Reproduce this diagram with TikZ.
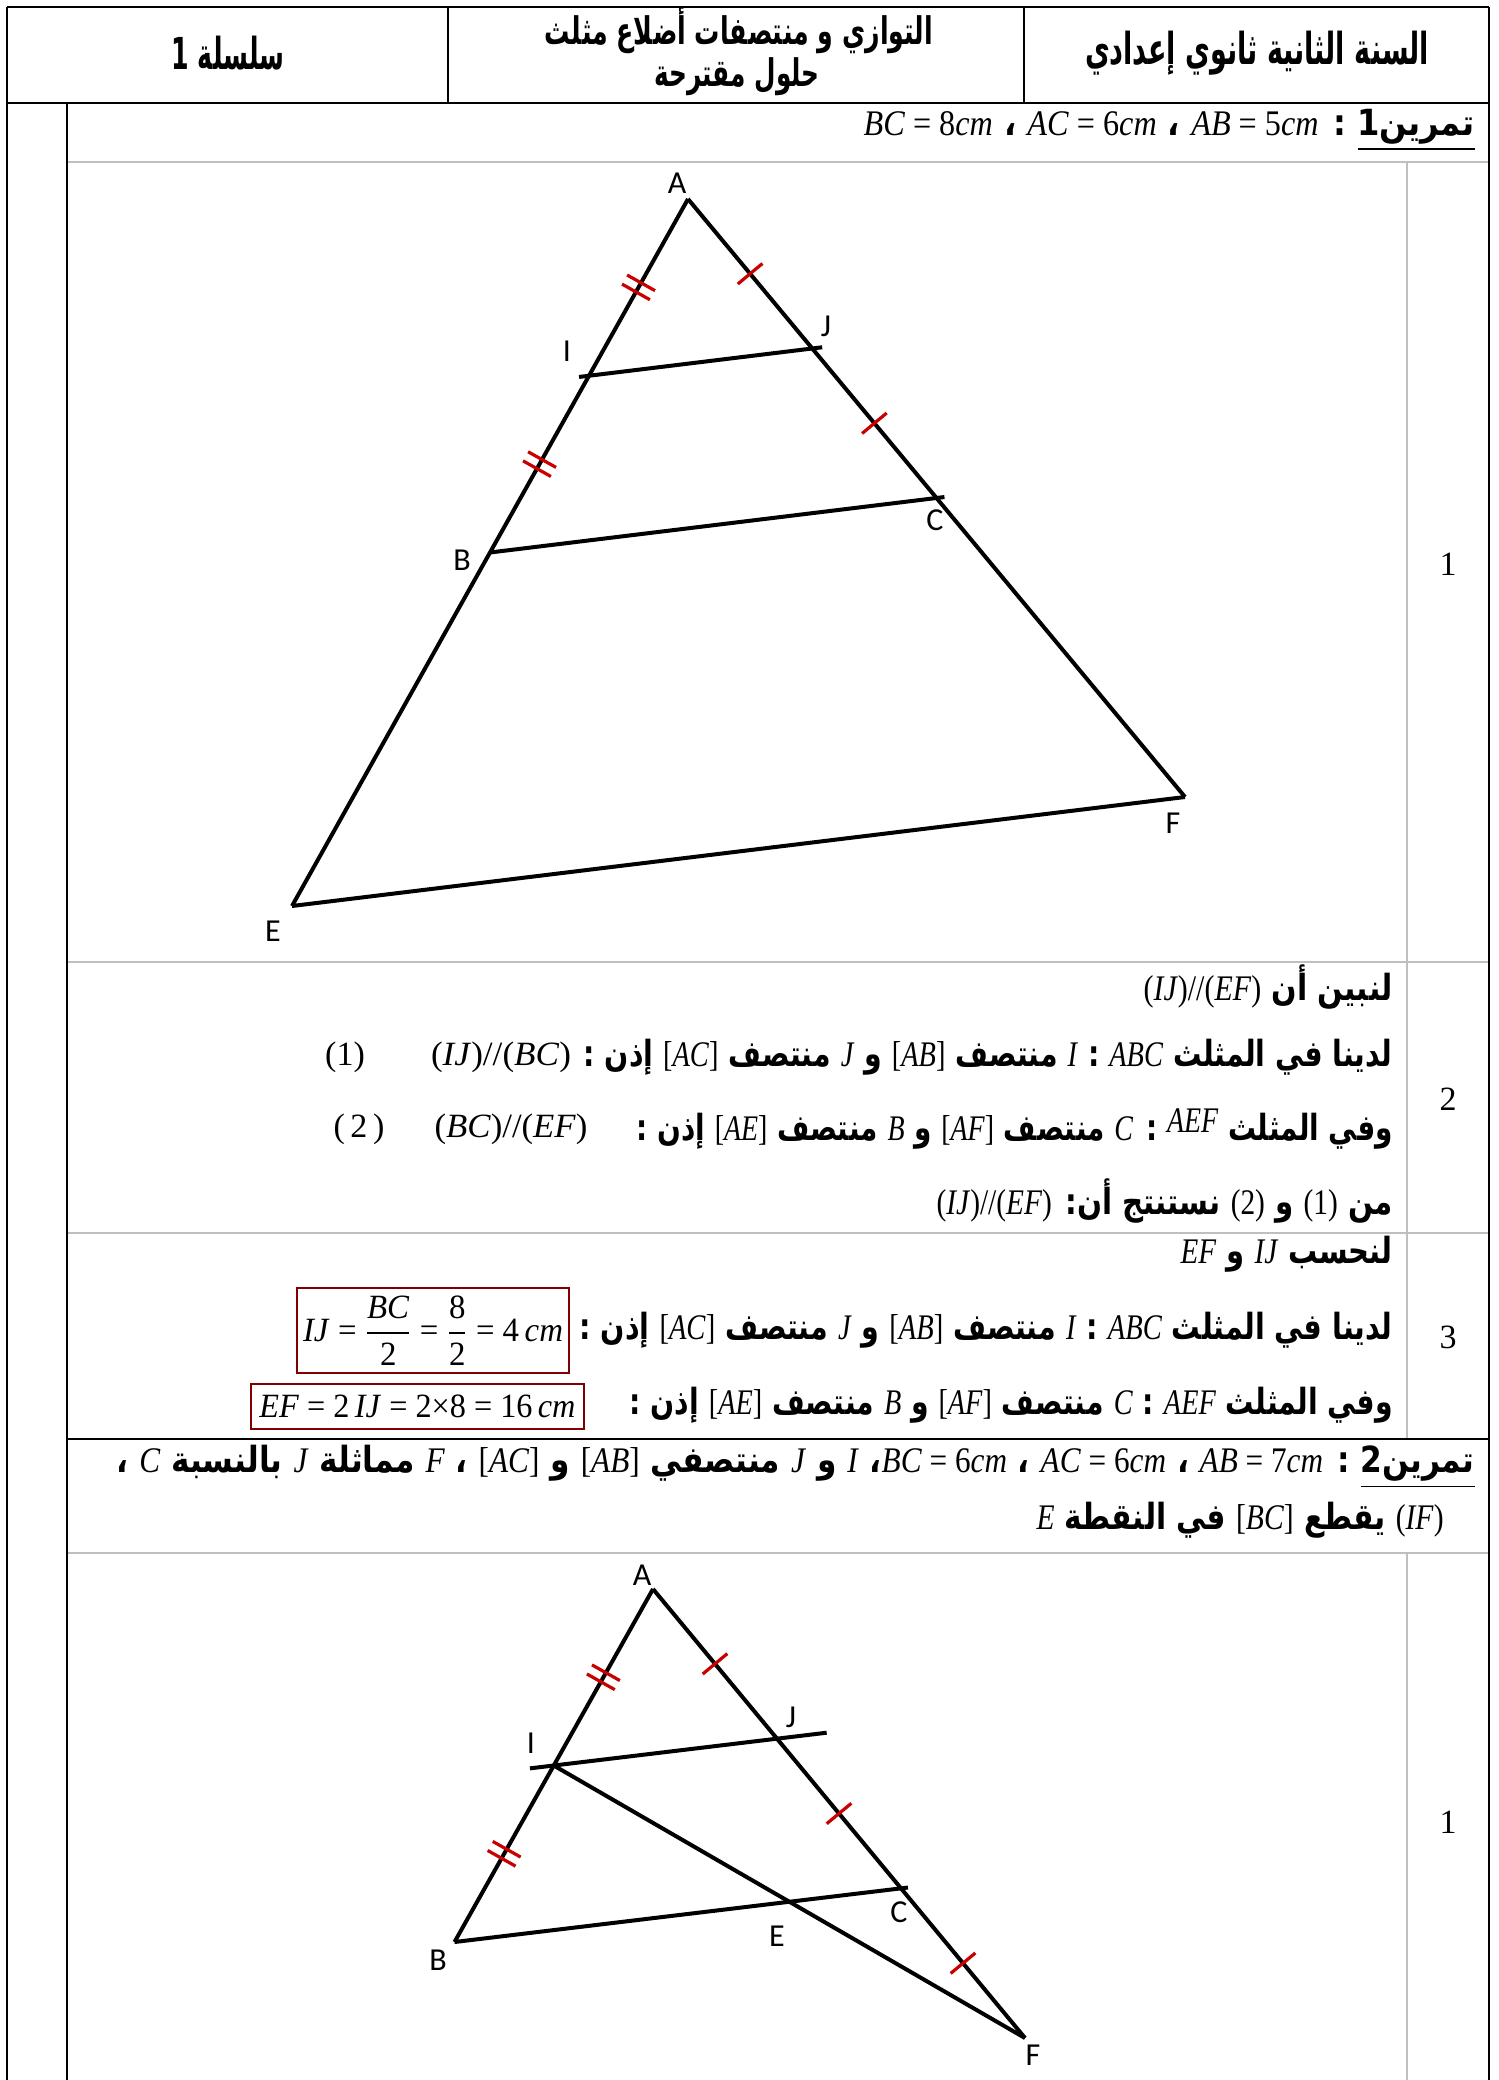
\documentclass[tikz,border=0pt]{standalone}
\usepackage{amsmath}
\usepackage{graphicx}
\usepackage{fontspec}
\usetikzlibrary{calc}
\TeXXeTstate=1
\setmainfont{Liberation Serif}
\newfontfamily\arf[Script=Arabic]{DejaVu Sans}
\newfontfamily\tnr{Liberation Serif}
\newfontfamily\lblf{Carlito}
\definecolor{tickred}{RGB}{200,0,0}
\definecolor{boxred}{RGB}{128,0,0}
\definecolor{lgray}{RGB}{191,191,191}
\newcommand\AR[1]{{\arf\bfseries\beginR #1\endR}}
\newcommand\LL[1]{\beginL #1\endL{}}
\newcommand\mt[1]{{\tnr\mdseries\upshape #1}}
\newcommand\vi[1]{\textit{#1}}
\newcommand\mL[1]{\LL{\mt{#1}}}
\newcommand\fw[2]{\resizebox{#1pt}{\height}{#2}}
\newcommand\tickone[2]{%
 \coordinate (tm) at ($(#1)!0.5!(#2)$);
 \draw[tk] ($(tm)!8pt!90:(#2)$) -- ($(tm)!8pt!-90:(#2)$);}
\newcommand\ticktwo[2]{%
 \coordinate (tm) at ($(#1)!0.5!(#2)$);
 \coordinate (tma) at ($(tm)!2.6pt!(#2)$);
 \coordinate (tmb) at ($(tm)!-2.6pt!(#2)$);
 \draw[tk] ($(tma)!8pt!90:(#2)$) -- ($(tma)!8pt!-90:(#2)$);
 \draw[tk] ($(tmb)!8pt!90:(#2)$) -- ($(tmb)!8pt!-90:(#2)$);}
\tikzset{
 tbl/.style={line width=1pt},
 gry/.style={line width=0.8pt, draw=lgray},
 seg/.style={line width=2pt},
 tk/.style={line width=1.6pt, draw=tickred},
 lbl/.style={font=\lblf\fontsize{16}{18}\selectfont, inner sep=0pt},
 ar/.style={inner sep=0pt, anchor=east, font=\fontsize{18}{21}\selectfont},
 hd/.style={inner sep=0pt, font=\fontsize{22}{25}\selectfont},
 hdm/.style={inner sep=0pt, font=\fontsize{19}{22}\selectfont},
 mth/.style={inner sep=0pt, font=\fontsize{17}{20}\selectfont},
 num/.style={inner sep=0pt, font=\tnr\fontsize{17}{20}\selectfont},
 res/.style={draw=boxred, line width=1.3pt, inner sep=0pt, font=\fontsize{17}{20}\selectfont},
}
\begin{document}
\begin{tikzpicture}[x=0.5pt,y=-0.5pt]
\fill[white] (0,0) rectangle (1498,2080);
\useasboundingbox (0,0) rectangle (1498,2080);
% ---- table ----
\draw[gry] (66.5,162) -- (1489,162);
\draw[gry] (66.5,962) -- (1489,962);
\draw[gry] (66.5,1233) -- (1489,1233);
\draw[gry] (66.5,1553) -- (1489,1553);
\draw[gry] (1407,162) -- (1407,1439);
\draw[gry] (1407,1553) -- (1407,2080);
\draw[tbl] (6.5,7) -- (1489,7);
\draw[tbl] (6.5,7) -- (6.5,2080);
\draw[tbl] (1489,7) -- (1489,2080);
\draw[tbl] (6.5,103) -- (1489,103);
\draw[tbl] (448,7) -- (448,103);
\draw[tbl] (1024,7) -- (1024,103);
\draw[tbl] (66.5,103) -- (66.5,2080);
\draw[tbl] (66.5,1439) -- (1489,1439);
% ---- header ----
\node[hd] (h1) at (1257,53) {\fw{172}{\AR{السنة الثانية ثانوي إعدادي}}};
\node[hdm] (h2) at (739,30) {\fw{194}{\AR{التوازي و منتصفات أضلاع مثلث}}};
\node[hdm] (h3) at (737,77) {\fw{82.5}{\AR{حلول مقترحة}}};
\node[hd] (h4) at (228,53) {\fw{56.5}{\AR{سلسلة \LL{1}}}};
% ---- exercise 1 ----
\node[ar] (t1) at (1475,130) {\fw{305.5}{\AR{\underline{\AR{تمرين\LL{1}}} : \mL{\vi{AB} = 5\vi{cm}} ، \mL{\vi{AC} = 6\vi{cm}} ، \mL{\vi{BC} = 8\vi{cm}}}}};
% figure 1
\coordinate (A1) at (688,199);
\coordinate (E1) at (292,906);
\coordinate (F1) at (1185,797);
\coordinate (B1) at ($(A1)!0.5!(E1)$);
\coordinate (C1) at ($(A1)!0.5!(F1)$);
\coordinate (I1) at ($(A1)!0.5!(B1)$);
\coordinate (J1) at ($(A1)!0.5!(C1)$);
\draw[seg] (A1) -- (E1);
\draw[seg] (A1) -- (F1);
\draw[seg] (E1) -- (F1);
\draw[seg] ($(I1)!-5pt!(J1)$) -- ($(J1)!-5pt!(I1)$);
\draw[seg] (B1) -- ($(C1)!-4pt!(B1)$);
\ticktwo{A1}{I1}
\ticktwo{I1}{B1}
\tickone{A1}{J1}
\tickone{J1}{C1}
\node[lbl] (lA1) at (677,183) {A};
\node[lbl] (lI1) at (567,351) {I};
\node[lbl] (lJ1) at (826,326) {J};
\node[lbl] (lB1) at (462,560) {B};
\node[lbl] (lC1) at (935,520) {C};
\node[lbl] (lF1) at (1173,823) {F};
\node[lbl] (lE1) at (273,931) {E};
\node[num] (n1) at (1448,564) {1};
% part 2
\node[ar] (r2a) at (1393,987) {\fw{124.5}{\AR{لنبين أن \mL{(\vi{IJ})//(\vi{EF})}}}};
\node[ar] (r2b) at (1393,1057) {\fw{404.5}{\AR{لدينا في المثلث \mL{\vi{ABC}} : \mL{\vi{I}} منتصف \mL{[\vi{AB}]} و \mL{\vi{J}} منتصف \mL{[\vi{AC}]} إذن :}}};
\node[mth] (r2bm) at (501,1057) {\fw{70}{\mt{(\vi{IJ})//(\vi{BC})}}};
\node[mth] (r2bn) at (345,1057) {\mt{(1)}};
\node[ar] (r2c) at (1393,1129) {\fw{378}{\AR{وفي المثلث \mL{\raisebox{4pt}{\vi{AEF}}} : \mL{\vi{C}} منتصف \mL{[\vi{AF}]} و \mL{\vi{B}} منتصف \mL{[\vi{AE}]} إذن :}}};
\node[mth] (r2cm) at (511,1129) {\fw{76.5}{\mt{(\vi{BC})//(\vi{EF})}}};
\node[mth] (r2cn) at (359,1129) {\mt{(\,2\,)}};
\node[ar] (r2d) at (1393,1201) {\fw{228}{\AR{من \mL{(1)} و \mL{(2)} نستنتج أن: \mL{(\vi{IJ})//(\vi{EF})}}}};
\node[num] (n2) at (1448,1099) {2};
% part 3
\node[ar] (r3a) at (1393,1254) {\fw{106}{\AR{لنحسب \mL{\vi{IJ}} و \mL{\vi{EF}}}}};
\node[ar] (r3b) at (1393,1330) {\fw{406.5}{\AR{لدينا في المثلث \mL{\vi{ABC}} : \mL{\vi{I}} منتصف \mL{[\vi{AB}]} و \mL{\vi{J}} منتصف \mL{[\vi{AC}]} إذن :}}};
\node[ar] (r3c) at (1393,1405) {\fw{381.5}{\AR{وفي المثلث \mL{\vi{AEF}} : \mL{\vi{C}} منتصف \mL{[\vi{AF}]} و \mL{\vi{B}} منتصف \mL{[\vi{AE}]} إذن :}}};
\node[res, minimum width=136pt, minimum height=42.5pt] (bx1) at (433,1330.5) {\fw{130}{\mt{\vi{IJ} = }$\dfrac{\hbox{\mt{\vi{BC}}}}{\hbox{\mt{2}}}$\mt{ = }$\dfrac{\hbox{\mt{8}}}{\hbox{\mt{2}}}$\mt{ = 4\,\vi{cm}}}};
\node[res, minimum width=166.5pt, minimum height=22.5pt] (bx2) at (417.5,1406.5) {\fw{158}{\mt{\vi{EF} = 2\,\vi{IJ} = 2×8 = 16\,\vi{cm}}}};
\node[num] (n3) at (1448,1337) {3};
% ---- exercise 2 ----
\node[ar] (t2a) at (1475,1467) {\fw{679}{\AR{\underline{\AR{تمرين\LL{2}}} : \mL{\vi{AB} = 7\vi{cm}} ، \mL{\vi{AC} = 6\vi{cm}} ، \mL{\vi{BC} = 6\vi{cm}}، \mL{\vi{I}} و \mL{\vi{J}} منتصفي \mL{[\vi{AB}]} و \mL{[\vi{AC}]} ، \mL{\vi{F}} مماثلة \mL{\vi{J}} بالنسبة \mL{\vi{C}} ،}}};
\node[ar] (t2b) at (1444,1520) {\fw{203.5}{\AR{\mL{(\vi{IF})} يقطع \mL{[\vi{BC}]} في النقطة \mL{\vi{E}}}}};
% figure 2
\coordinate (A2) at (653,1589);
\coordinate (B2) at (454.5,1942);
\coordinate (F2) at (1025,2038);
\coordinate (I2) at ($(A2)!0.5!(B2)$);
\coordinate (J2) at ($(A2)!1/3!(F2)$);
\coordinate (C2) at ($(A2)!2/3!(F2)$);
\coordinate (E2) at ($(I2)!0.5!(F2)$);
\draw[seg] (A2) -- (B2);
\draw[seg] (A2) -- (F2);
\draw[seg] (I2) -- (F2);
\draw[seg] (B2) -- ($(C2)!-3.5pt!(B2)$);
\draw[seg] ($(I2)!-12pt!(J2)$) -- ($(J2)!-25pt!(I2)$);
\ticktwo{A2}{I2}
\ticktwo{I2}{B2}
\tickone{A2}{J2}
\tickone{J2}{C2}
\tickone{C2}{F2}
\node[lbl] (lA2) at (642,1575) {A};
\node[lbl] (lJ2) at (791,1717) {J};
\node[lbl] (lI2) at (531,1743) {I};
\node[lbl] (lC2) at (899,1912) {C};
\node[lbl] (lE2) at (777,1936) {E};
\node[lbl] (lB2) at (438,1960) {B};
\node[lbl] (lF2) at (1033,2055) {F};
\node[num] (n4) at (1448,1822) {1};
\end{tikzpicture}
\end{document}
